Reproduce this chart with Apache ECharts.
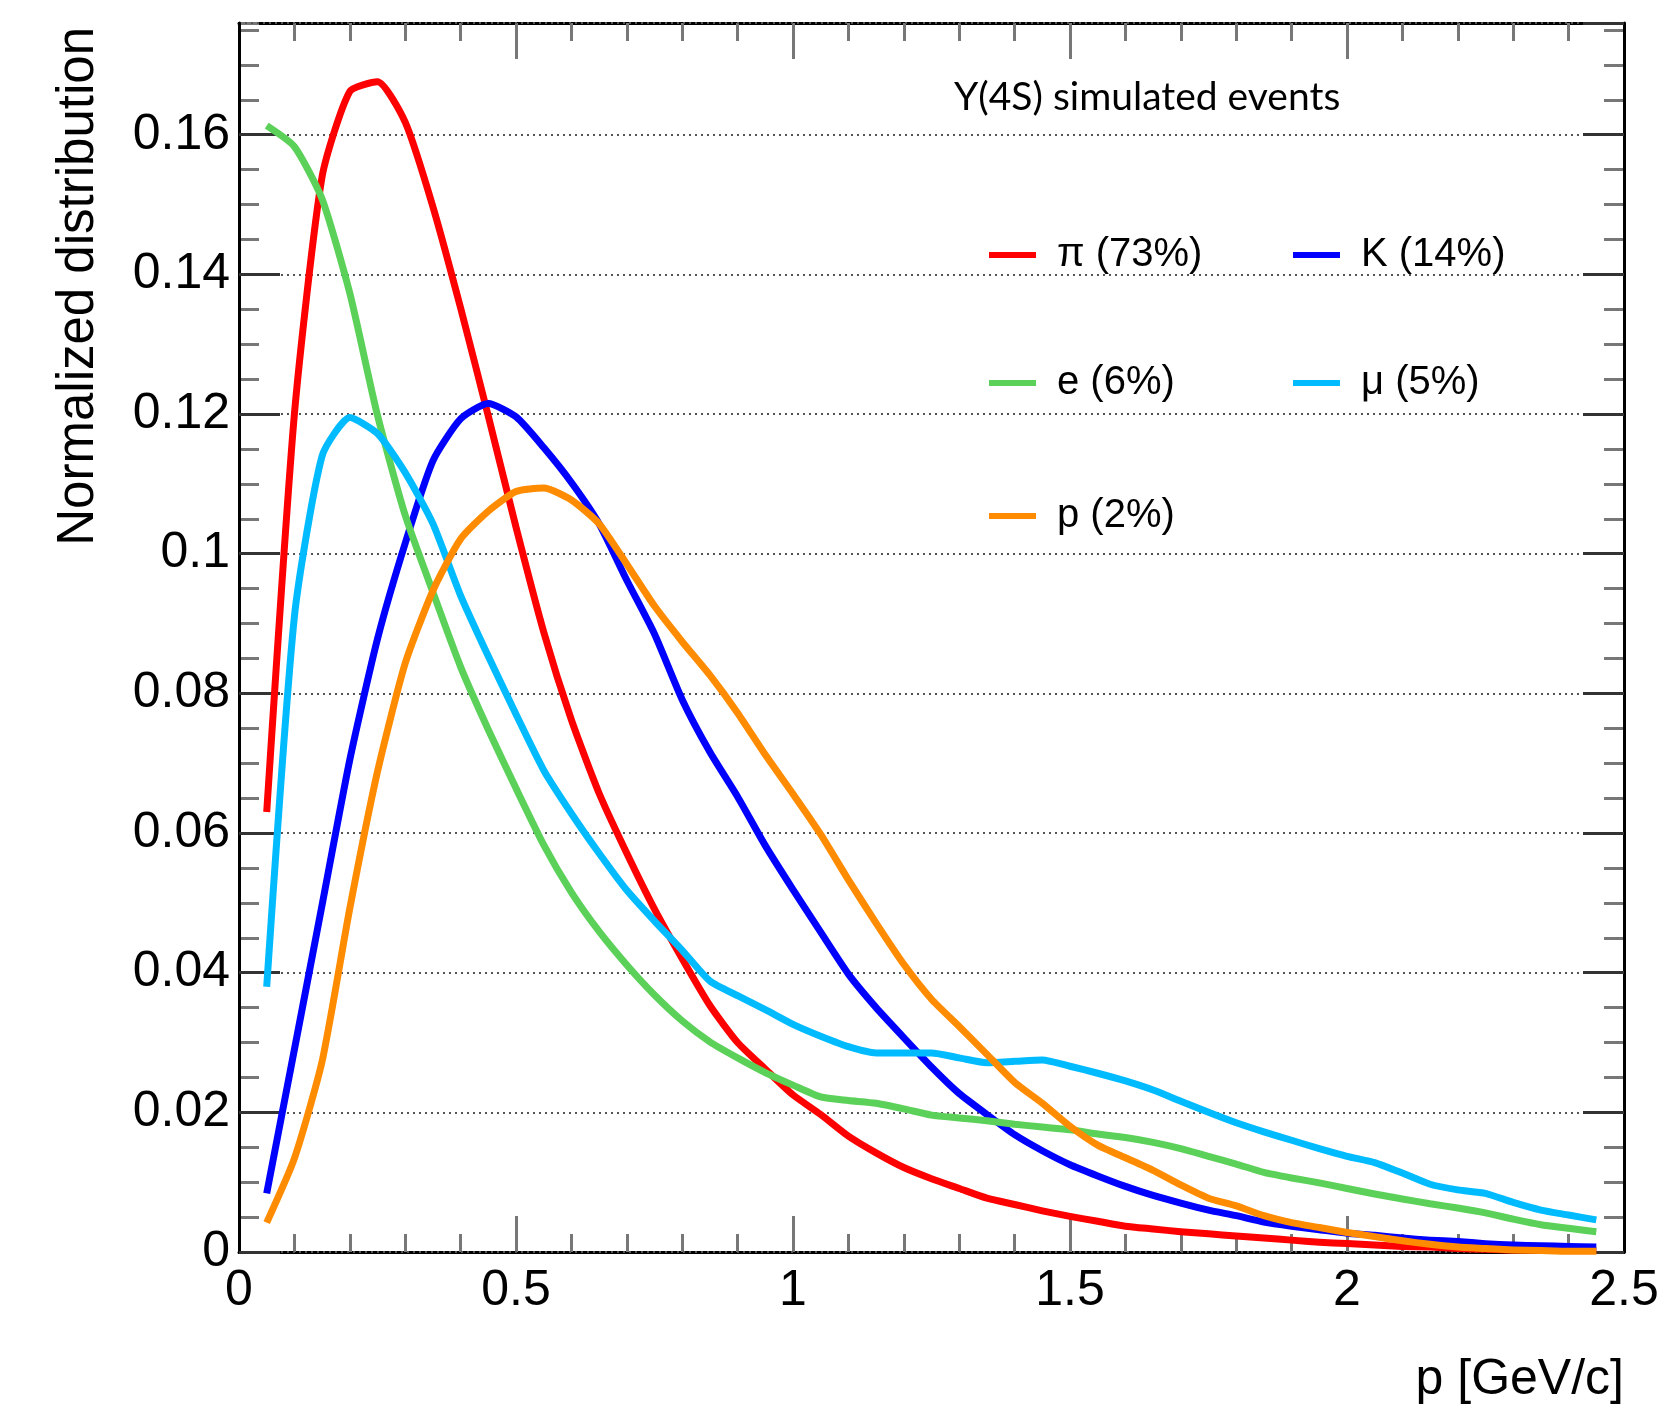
<!DOCTYPE html>
<html><head><meta charset="utf-8">
<script src="https://cdn.jsdelivr.net/npm/echarts@6/dist/echarts.min.js"></script>
<style>html,body{margin:0;padding:0;background:#fff}#chart{width:1675px;height:1407px}</style>
</head><body><div id="chart"></div>
<script>
// momentum bin centers [GeV/c]
const momentum = [0.05,0.10,0.15,0.20,0.25,0.30,0.35,0.40,0.45,0.50,0.55,0.60,0.65,0.70,0.75,0.80,0.85,0.90,0.95,1.00,
  1.05,1.10,1.15,1.20,1.25,1.30,1.35,1.40,1.45,1.50,1.55,1.60,1.65,1.70,1.75,1.80,1.85,1.90,1.95,2.00,
  2.05,2.10,2.15,2.20,2.25,2.30,2.35,2.40,2.45];
const pion = [0.063,0.120,0.154,0.1662,0.1676,0.1618,0.1497,0.1352,0.1197,0.1038,0.0888,0.0762,0.0657,0.0571,0.0491,0.042,0.0353,0.030,0.0262,0.0225,
  0.0197,0.0166,0.0142,0.0121,0.0105,0.0091,0.0077,0.0068,0.0059,0.0051,0.0044,0.0037,0.0033,0.0029,0.0026,0.0023,0.0020,0.0017,0.0014,0.0012,
  0.0010,0.0008,0.0007,0.0005,0.0004,0.0003,0.0003,0.0002,0.0002];
const kaon = [0.0084,0.029,0.0497,0.0705,0.0878,0.1015,0.1133,0.1193,0.1215,0.1196,0.1152,0.1102,0.1043,0.0962,0.0885,0.0791,0.0716,0.0652,0.0582,0.0519,
  0.0458,0.0398,0.035,0.0307,0.0265,0.0227,0.0197,0.0168,0.0145,0.0125,0.0109,0.0094,0.0081,0.007,0.006,0.0052,0.0043,0.0037,0.0032,0.0027,
  0.0024,0.002,0.0017,0.0015,0.0012,0.001,0.0009,0.0008,0.0007];
const electron = [0.1613,0.1583,0.1508,0.1373,0.1198,0.1055,0.0945,0.0838,0.0748,0.0664,0.0583,0.0515,0.0459,0.0411,0.0368,0.0331,0.0301,0.0278,0.0257,0.0239,
  0.0222,0.0217,0.0213,0.0205,0.0196,0.0192,0.0188,0.0183,0.0179,0.0175,0.0169,0.0164,0.0157,0.0148,0.0137,0.0126,0.0114,0.0106,0.0099,0.0091,
  0.0083,0.0076,0.0069,0.0063,0.0056,0.0047,0.0039,0.0034,0.0029];
const muon = [0.038,0.091,0.114,0.1195,0.1172,0.1116,0.1043,0.094,0.0853,0.077,0.069,0.0628,0.0571,0.0518,0.0474,0.0432,0.0388,0.0367,0.0347,0.0326,
  0.0309,0.0294,0.0285,0.0285,0.0285,0.0278,0.0271,0.0273,0.0275,0.0266,0.0256,0.0245,0.0232,0.0216,0.0200,0.0185,0.0172,0.016,0.0148,0.0137,
  0.0128,0.0113,0.0097,0.0089,0.0084,0.0071,0.006,0.0053,0.0046];
const proton = [0.0042,0.0134,0.0273,0.0492,0.0688,0.0843,0.0947,0.1021,0.1061,0.1089,0.1094,0.1077,0.1043,0.0985,0.0925,0.0874,0.0826,0.0772,0.0712,0.0656,
  0.0598,0.0533,0.0471,0.0412,0.0362,0.0323,0.0283,0.0243,0.0213,0.018,0.0153,0.0135,0.0117,0.0096,0.0077,0.0066,0.0052,0.0042,0.0035,0.0028,
  0.0022,0.0016,0.0011,0.0007,0.0005,0.0003,0.0002,0.0001,0.0001];
const seriesNames = ['π (73%)','K (14%)','e (6%)','μ (5%)','p (2%)'];
const seriesData = [pion, kaon, electron, muon, proton];
const seriesColors = ['#ff0000','#0000ff','#5cd159','#00bbff','#ff8c00'];

const chart = echarts.init(document.getElementById('chart'), null, {renderer:'canvas'});
const FONT = '"Liberation Sans", Arial, Helvetica, sans-serif';
const legendPos = [[989,235],[1293,235],[989,363],[1293,363],[989,496]];

function xAx(pos, showLabel){
  return {type:'value', position:pos, min:0, max:2.5, interval:0.5,
    axisLine:{show:true, onZero:false, lineStyle:{color:'#000', width:3}},
    axisTick:{show:true, inside:true, length:36, lineStyle:{color:'#777', width:3}},
    minorTick:{show:true, splitNumber:5, length:18, lineStyle:{color:'#777', width:3}},
    axisLabel:{show:showLabel, margin:14, fontSize:50, fontFamily:FONT, color:'#000'},
    splitLine:{show:false}, minorSplitLine:{show:false}};
}
function yAx(pos, showLabel){
  return {type:'value', position:pos, min:0, max:0.176, interval:0.02,
    axisLine:{show:true, onZero:false, lineStyle:{color:'#000', width:3}},
    axisTick:{show:true, inside:true, length:41, lineStyle:{color:'#333', width:3}},
    minorTick:{show:false},
    axisLabel:{show:showLabel, margin:9, fontSize:50, fontFamily:FONT, color:'#000', showMaxLabel:false},
    splitLine:{show:showLabel, lineStyle:{type:[2,4], color:'#555', width:2}}, z:3};
}
function yMinor(pos){
  return {type:'value', position:pos, min:0, max:0.176, interval:0.005,
    axisLine:{show:false, onZero:false},
    axisTick:{show:true, inside:true, length:20, lineStyle:{color:'#777', width:3}},
    axisLabel:{show:false}, splitLine:{show:false}, z:1};
}

const option = {
  backgroundColor:'#fff',
  animation:false,
  grid:{left:239, right:51, top:23, bottom:155, containLabel:false, outerBoundsMode:'none'},
  xAxis:[xAx('bottom', true), xAx('top', false)],
  yAxis:[yAx('left', true), yAx('right', false), yMinor('left'), yMinor('right')],
  legend: seriesNames.map((n,i)=>({
    data:[n], left:legendPos[i][0], top:legendPos[i][1], orient:'horizontal',
    padding:0, itemGap:0, itemWidth:47, itemHeight:6, icon:'rect', selectedMode:false,
    textStyle:{fontSize:40, lineHeight:40, fontFamily:FONT, color:'#000', padding:[0,0,0,16]}
  })),
  graphic:[
    {type:'text', x:79, y:27, rotation:Math.PI/2, style:{text:'Normalized distribution', font:'51px "Liberation Sans", Arial, sans-serif', fill:'#000', align:'right', verticalAlign:'middle', textAlign:'right', textVerticalAlign:'middle'}},
    {type:'text', x:1624, y:1380, style:{text:'p [GeV/c]', font:'50px "Liberation Sans", Arial, sans-serif', fill:'#000', align:'right', verticalAlign:'middle', textAlign:'right', textVerticalAlign:'middle'}},
    {type:'text', x:954, y:97, style:{text:'Y(4S) simulated events', font:'39px Lato, "Open Sans", sans-serif', fill:'#000', align:'left', verticalAlign:'middle', textAlign:'left', textVerticalAlign:'middle'}}
  ],
  series: seriesNames.map((n,i)=>({
    name:n, type:'line', xAxisIndex:0, yAxisIndex:0,
    data: momentum.map((x,j)=>[x, seriesData[i][j]]),
    showSymbol:false, symbol:'none', smooth:0.2,
    lineStyle:{color:seriesColors[i], width:7, join:'round', cap:'butt'},
    itemStyle:{color:seriesColors[i]}, z:5+i
  }))
};
chart.setOption(option);
</script></body></html>
